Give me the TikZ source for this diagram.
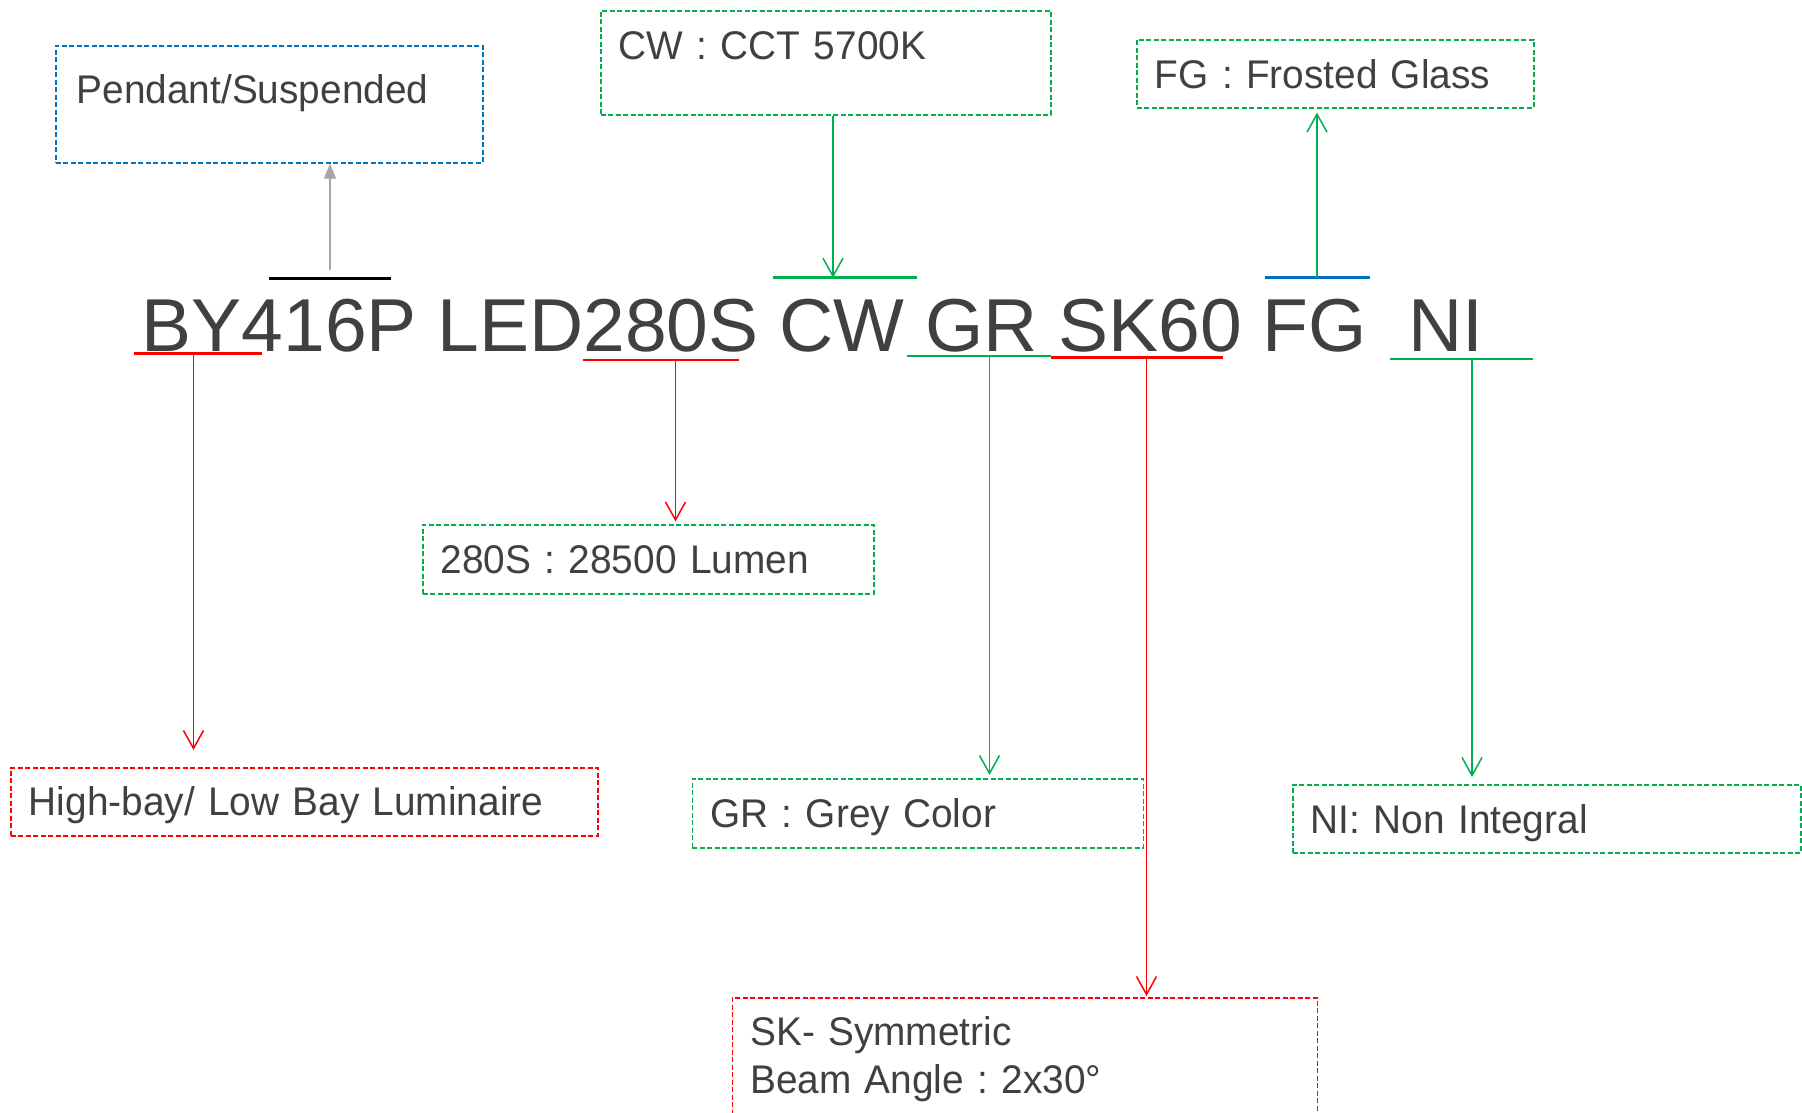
\documentclass[tikz,border=0pt]{standalone}
\usepackage{fontspec}
\setmainfont{Liberation Sans}
\newfontfamily\tagfont[FakeStretch=0.97]{Liberation Sans}
\usetikzlibrary{arrows.meta}
\definecolor{txtgray}{HTML}{404040}
\definecolor{tagred}{HTML}{FF0000}
\definecolor{taggreen}{HTML}{00B050}
\definecolor{tagblue}{HTML}{0070C0}
\definecolor{arrgray}{HTML}{A6A6A6}
\frenchspacing

\begin{document}
\begin{tikzpicture}[x=1pt, y=-1pt,
    tagbox/.style={draw=#1, dash pattern=on 5pt off 2.5pt, line width=1.6pt,
        anchor=north west, inner xsep=18pt, inner ysep=0pt, align=left,
        text=txtgray, font=\tagfont\fontsize{40}{48}\selectfont},
    codebar/.style={draw=#1, line width=2.5pt},
    codearrow/.style={draw=#1, line width=1.5pt,
        -{Straight Barb[length=18pt,width=20pt]}}]
    \useasboundingbox (0,0) rectangle (1802,1112);
    \clip (0,0) rectangle (1802,1112);

    % Product code
    \node[anchor=base west, inner sep=0pt, text=txtgray,
        font=\fontsize{75}{90}\selectfont] (code) at (141.5,351)
        {BY416P LED280S CW GR SK60 FG\ \ NI};

    % Description boxes
    \node[tagbox=tagblue, inner xsep=21pt, text width=385pt, text height=58pt, text depth=59pt] (pend) at (55,45) {Pendant/Suspended};
    \node[tagbox=taggreen, text width=414pt, text height=49pt, text depth=55pt] (cw) at (600,10) {CW : CCT 5700K};
    \node[tagbox=taggreen, text width=361pt, text height=49pt, text depth=19pt] (fg) at (1136,39) {FG : Frosted Glass};
    \node[tagbox=taggreen, text width=415pt, text height=49pt, text depth=20pt] (lumen) at (422,524) {280S : 28500 Lumen};
    \node[tagbox=tagred, text width=551pt, text height=48pt, text depth=20pt] (bay) at (10,767) {High-bay/ Low Bay Luminaire};
    \node[tagbox=taggreen, text width=415pt, text height=49pt, text depth=20pt] (grey) at (691.5,778) {GR : Grey Color};
    \node[tagbox=taggreen, text width=472pt, text height=49pt, text depth=19pt] (integ) at (1292,784) {NI: Non Integral};
    \node[tagbox=tagred, text width=549pt, text height=48pt, text depth=110pt] (beam) at (731.5,997) {SK- Symmetric\\Beam Angle : 2x30°};

    % Marks above the code
    \draw[codebar=black] (269,278.7) -- (391,278.7);
    \draw[codebar=taggreen] (772.6,277.7) -- (916.5,277.7);
    \draw[codebar=tagblue] (1265,277.7) -- (1370,277.7);

    % Marks below the code
    \draw[codebar=tagred] (134.4,353.7) -- (261.8,353.7);
    \draw[codebar=tagred] (582.8,360) -- (738.6,360);
    \draw[codebar=taggreen] (907.4,356) -- (1050.5,356);
    \draw[codebar=tagred] (1050.5,357.7) -- (1223,357.7);
    \draw[codebar=taggreen] (1389.6,359) -- (1532.9,359);

    % Arrow feet on the marks
    \coordinate (mountmk) at (330,270);
    \coordinate (cwmk) at (833,277.7);
    \coordinate (fgmk) at (1317,277.7);
    \coordinate (bymk) at (193.5,353.7);
    \coordinate (lmmk) at (675.5,360);
    \coordinate (grmk) at (989.5,356);
    \coordinate (skmk) at (1146.5,357.7);
    \coordinate (nimk) at (1472,359);

    % Arrows
    \draw[arrgray, line width=1.5pt, -{Triangle[length=15pt,width=12pt]}] (mountmk) -- (mountmk |- pend.south);
    \draw[codearrow=taggreen] (cwmk |- cw.south) -- (cwmk);
    \draw[codearrow=taggreen, shorten >=4pt] (fgmk) -- (fgmk |- fg.south);
    \draw[codearrow=tagred, shorten >=17pt] (bymk) -- (bymk |- bay.north);
    \draw[codearrow=tagred, shorten >=2.5pt] (lmmk) -- (lmmk |- lumen.north);
    \draw[codearrow=taggreen, shorten >=3pt] (grmk) -- (grmk |- grey.north);
    \draw[codearrow=tagred, shorten >=1pt] (skmk) -- (skmk |- beam.north);
    \draw[codearrow=taggreen, shorten >=7pt] (nimk) -- (nimk |- integ.north);
\end{tikzpicture}
\end{document}
